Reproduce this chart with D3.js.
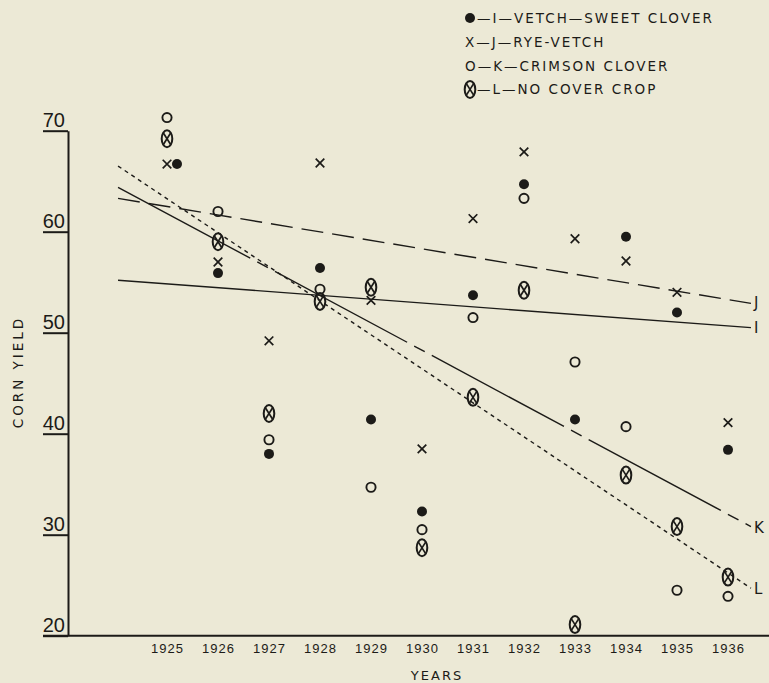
<!DOCTYPE html>
<html>
<head>
<meta charset="utf-8">
<script src="https://cdn.jsdelivr.net/npm/d3@7/dist/d3.min.js"></script>
<style>
  html, body { margin: 0; padding: 0; background: #ece9d6; }
  svg { display: block; font-family: "DejaVu Sans", sans-serif; }
</style>
</head>
<body>
<svg id="chart"></svg>
<script>
// data
const years = [1925, 1926, 1927, 1928, 1929, 1930, 1931, 1932, 1933, 1934, 1935, 1936];
const vetchSweetClover = [66.7, 55.9, 38.0, 56.4, 41.4, 32.3, 53.7, 64.7, 41.4, 59.5, 52.0, 38.4];   // I
const ryeVetch         = [66.7, 57.0, 49.2, 66.8, 53.2, 38.5, 61.3, 67.9, 59.3, 57.1, 54.0, 41.1];   // J
const crimsonClover    = [71.3, 62.0, 39.4, 54.3, 34.7, 30.5, 51.5, 63.3, 47.1, 40.7, 24.5, 23.9];   // K
const noCoverCrop      = [69.2, 59.0, 42.0, 53.1, 54.5, 28.7, 43.6, 54.2, 21.1, 35.9, 30.8, 25.8];   // L

// trend lines (start / end of each drawn line)
const trendYears = [1924.04, 1936.45];
const trendI = [55.2, 50.5];
const trendJ = [63.3, 52.9];
const trendK = [64.4, 30.8];
const trendL = [66.5, 24.7];

const yTicks = [20, 30, 40, 50, 60, 70];
const legendLabels = ['—I—VETCH—SWEET CLOVER', 'X—J—RYE-VETCH', 'O—K—CRIMSON CLOVER', '—L—NO COVER CROP'];

const width = 769, height = 683;
const ink = '#1c1b18';

const svg = d3.select('#chart').attr('width', width).attr('height', height);

const x = d3.scaleLinear().domain([1925, 1936]).range([167, 728]);
const y = d3.scaleLinear().domain([20, 70]).range([635.7, 130.7]);
const axisX = 68;

// y axis: underlined numbers
const yAxis = svg.append('g')
  .attr('transform', `translate(${axisX},0)`)
  .call(d3.axisLeft(y).tickValues(yTicks).tickSize(25).tickSizeOuter(0).tickFormat(d3.format('d')));
yAxis.select('.domain').attr('stroke', ink).attr('stroke-width', 2);
yAxis.selectAll('.tick line').attr('stroke', ink).attr('stroke-width', 2);
yAxis.selectAll('.tick text')
  .attr('x', -3).attr('dy', '-0.2em')
  .attr('fill', ink)
  .style('font-size', '20px')
  .style('text-anchor', 'end');

// x axis
svg.append('line')
  .attr('x1', 43).attr('x2', width)
  .attr('y1', y(20)).attr('y2', y(20))
  .attr('stroke', ink).attr('stroke-width', 2);
const xAxis = svg.append('g')
  .attr('transform', `translate(0,${y(20)})`)
  .call(d3.axisBottom(x).tickValues(years).tickSize(0).tickFormat(d3.format('d')));
xAxis.select('.domain').remove();
xAxis.selectAll('.tick text')
  .attr('y', 8)
  .attr('fill', ink)
  .style('font-size', '13px')
  .style('letter-spacing', '1px');

// axis titles
svg.append('text')
  .attr('x', 437).attr('y', 680)
  .attr('text-anchor', 'middle')
  .attr('fill', ink)
  .style('font-size', '13px')
  .style('letter-spacing', '2px')
  .text('YEARS');
svg.append('text')
  .attr('transform', 'translate(23,372) rotate(-90)')
  .attr('text-anchor', 'middle')
  .attr('fill', ink)
  .style('font-size', '13.5px')
  .style('letter-spacing', '3px')
  .text('CORN YIELD');

// trend lines
const trends = [
  { vals: trendI, dash: null, label: 'I', dy: 5 },
  { vals: trendJ, dash: '22,9', label: 'J', dy: 5 },
  { vals: trendK, dash: '150,8,12,8', label: 'K', dy: 6 },
  { vals: trendL, dash: '4,4', label: 'L', dy: 6 }
];
const line = d3.line().x(d => x(d[0])).y(d => y(d[1]));
trends.forEach(t => {
  const pts = trendYears.map((yr, i) => [yr, t.vals[i]]);
  svg.append('path')
    .attr('d', line(pts))
    .attr('fill', 'none')
    .attr('stroke', ink)
    .attr('stroke-width', 1.4)
    .attr('stroke-dasharray', t.dash);
  svg.append('text')
    .attr('x', x(trendYears[1]) + 3)
    .attr('y', y(t.vals[1]) + t.dy)
    .attr('fill', ink)
    .style('font-size', '15px')
    .text(t.label);
});

// marker drawing
function drawMarker(g, type) {
  if (type === 'dot') {
    g.append('circle').attr('r', 5).attr('fill', ink);
  } else if (type === 'x') {
    g.append('path').attr('d', 'M-4.3,-4.3L4.3,4.3M4.3,-4.3L-4.3,4.3')
      .attr('stroke', ink).attr('stroke-width', 1.7).attr('fill', 'none');
  } else if (type === 'o') {
    g.append('circle').attr('r', 4.6).attr('fill', 'none')
      .attr('stroke', ink).attr('stroke-width', 1.9);
  } else {
    g.append('ellipse').attr('rx', 5.3).attr('ry', 8.5).attr('fill', 'none')
      .attr('stroke', ink).attr('stroke-width', 2);
    g.append('path').attr('d', 'M-3.8,-6L3.8,6M3.8,-6L-3.8,6')
      .attr('stroke', ink).attr('stroke-width', 1.7);
  }
}

const series = [
  { vals: vetchSweetClover, type: 'dot' },
  { vals: ryeVetch, type: 'x' },
  { vals: crimsonClover, type: 'o' },
  { vals: noCoverCrop, type: 'ox' }
];

// plot points, nudging a marker sideways when it sits on an earlier one
years.forEach((yr, i) => {
  const placed = [];
  [1, 0, 2, 3].forEach(si => {
    const s = series[si];
    const v = s.vals[i];
    const clash = placed.some(p => Math.abs(p - v) < 0.3);
    placed.push(v);
    const g = svg.append('g')
      .attr('transform', `translate(${x(yr) + (clash ? 10 : 0)},${y(v)})`);
    drawMarker(g, s.type);
  });
});

// legend
const legend = svg.append('g').attr('transform', 'translate(470,0)');
legendLabels.forEach((lab, i) => {
  const ly = 18 + i * 23.8;
  if (i === 0) drawMarker(legend.append('g').attr('transform', `translate(0,${ly})`), 'dot');
  if (i === 3) drawMarker(legend.append('g').attr('transform', `translate(0,${ly})`), 'ox');
  legend.append('text')
    .attr('x', (i === 1 || i === 2) ? -5 : 7)
    .attr('y', ly + 5)
    .attr('fill', ink)
    .style('font-size', '13.5px')
    .style('letter-spacing', '2px')
    .text(lab);
});
</script>
</body>
</html>
